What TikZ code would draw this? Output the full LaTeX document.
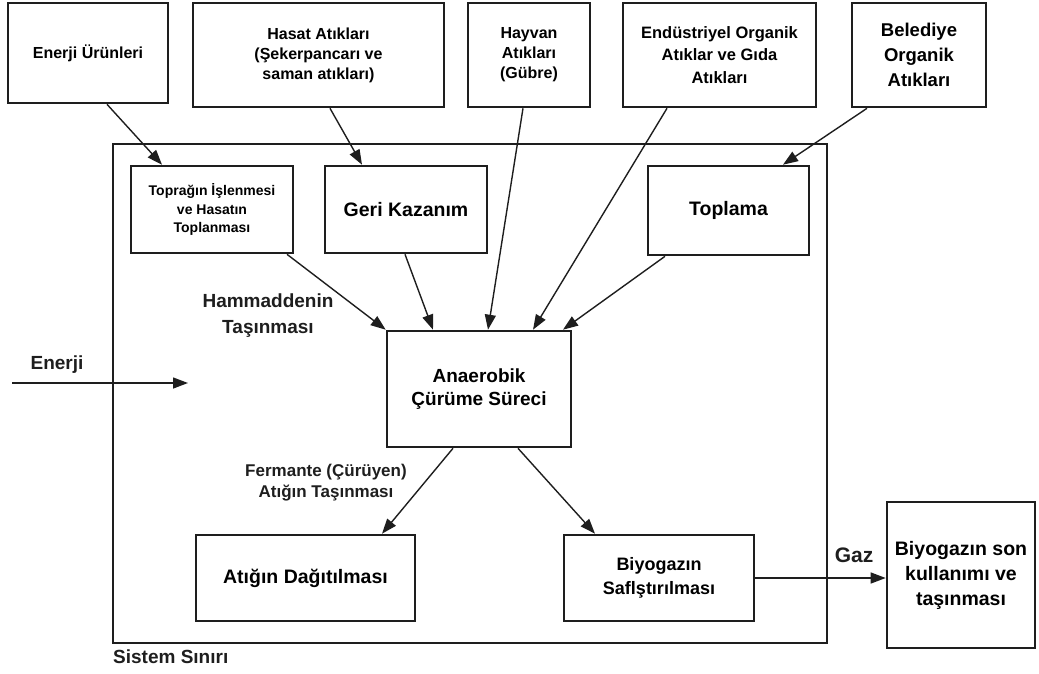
\documentclass[tikz,border=0pt]{standalone}
\usepackage{fontspec}
\setmainfont{Liberation Sans}
\usetikzlibrary{positioning,arrows.meta,calc}
\definecolor{bgLine}{RGB}{30,30,30}

\begin{document}
\begin{tikzpicture}[
    x=1pt, y=-1pt,
    box/.style={rectangle, draw=bgLine, line width=2.6pt, align=center, inner sep=2pt},
    top box/.style={box, font=\bfseries\fontsize{16}{20}\selectfont, minimum height=104pt},
    big box/.style={box, font=\bfseries\fontsize{19.5}{24}\selectfont},
    flow/.style={draw=bgLine, line width=1.4pt, -{Triangle[length=15pt,width=11pt]}},
    note/.style={font=\bfseries\fontsize{19}{26}\selectfont, align=center, text=bgLine}
]
  \useasboundingbox (0,0) rectangle (1039,673);

  % inputs
  \node[top box, minimum width=160pt, minimum height=100pt] (urun) at (88,53) {Enerji Ürünleri};
  \node[top box, minimum width=251pt] (hasat) at (318.5,55) {Hasat Atıkları\\(Şekerpancarı ve\\saman atıkları)};
  \node[top box, minimum width=122pt] (hayvan) at (529,55) {Hayvan\\Atıkları\\(Gübre)};
  \node[top box, minimum width=193pt, font=\bfseries\fontsize{16.5}{22.5}\selectfont] (endustri) at (719.5,55) {Endüstriyel Organik\\Atıklar ve Gıda\\Atıkları};
  \node[top box, minimum width=134pt, font=\bfseries\fontsize{18.5}{25}\selectfont] (belediye) at (919,55) {Belediye\\Organik\\Atıkları};

  % system boundary
  \draw[bgLine, line width=2.8pt] (113,144) rectangle (827,643);

  % processes
  \node[box, minimum width=162pt, minimum height=87pt, font=\bfseries\fontsize{14}{18.5}\selectfont] (toprak) at (212,209.5) {Toprağın İşlenmesi\\ve Hasatın\\Toplanması};
  \node[big box, minimum width=162pt, minimum height=87pt] (geri) at (406,209.5) {Geri Kazanım};
  \node[big box, minimum width=161pt, minimum height=89pt] (toplama) at (728.5,210.5) {Toplama};
  \node[big box, minimum width=184pt, minimum height=116pt, font=\bfseries\fontsize{19}{23}\selectfont] (anaerobik) at (479,389) {Anaerobik\\Çürüme Süreci};
  \node[big box, minimum width=219pt, minimum height=86pt] (dagitim) at (305.5,578) {Atığın Dağıtılması};
  \node[big box, minimum width=190pt, minimum height=86pt, font=\bfseries\fontsize{18}{24}\selectfont] (saf) at (659,578) {Biyogazın\\Saflştırılması};
  \node[big box, minimum width=148pt, minimum height=146pt, font=\bfseries\fontsize{19.5}{25}\selectfont] (son) at (961,575) {Biyogazın son\\kullanımı ve\\taşınması};

  % labels
  \node[note] (hammadde) at (268,316) {Hammaddenin\\Taşınması};
  \node[note] (enerji) at (57,365) {Enerji};
  \node[note, font=\bfseries\fontsize{17}{21}\selectfont] (fermante) at (326,483) {Fermante (Çürüyen)\\Atığın Taşınması};
  \node[note, anchor=west, inner sep=0pt] (sistem) at (113,657) {Sistem Sınırı};
  \node[note, font=\bfseries\fontsize{21}{24}\selectfont] (gaz) at (854,555) {Gaz};

  \coordinate (enerjiA) at (12,383);
  \coordinate (enerjiB) at (188,383);

  % flows
  \draw[flow] ([xshift=19pt]urun.south) -- ([xshift=-50pt]toprak.north);
  \draw[flow] ([xshift=11.5pt]hasat.south) -- ([xshift=-44pt]geri.north);
  \draw[flow] ([xshift=-6pt]hayvan.south) -- ([xshift=9pt]anaerobik.north);
  \draw[flow] ([xshift=-52.5pt]endustri.south) -- ([xshift=54pt]anaerobik.north);
  \draw[flow] ([xshift=-52pt]belediye.south) -- ([xshift=54.5pt]toplama.north);
  \draw[flow] ([xshift=75pt]toprak.south) -- (anaerobik.north west);
  \draw[flow] ([xshift=-1pt]geri.south) -- ([xshift=-46pt]anaerobik.north);
  \draw[flow] ([xshift=-63.5pt]toplama.south) -- ([xshift=84pt]anaerobik.north);
  \draw[flow] ([xshift=-26pt]anaerobik.south) -- ([xshift=76.5pt]dagitim.north);
  \draw[flow] ([xshift=39pt]anaerobik.south) -- ([xshift=-64pt]saf.north);
  \draw[flow] (saf.east) -- (saf.east -| son.west);
  \draw[flow] (enerjiA) -- (enerjiB);
\end{tikzpicture}
\end{document}
